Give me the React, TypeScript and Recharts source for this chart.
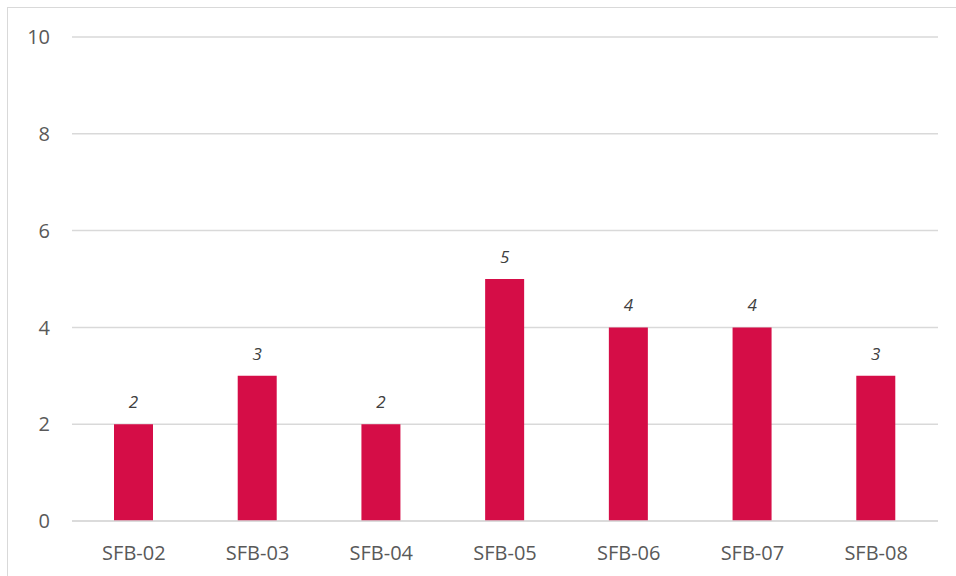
import React from 'react';
import { BarChart, Bar, XAxis, YAxis, CartesianGrid, LabelList } from 'recharts';

const categories = ['SFB-02', 'SFB-03', 'SFB-04', 'SFB-05', 'SFB-06', 'SFB-07', 'SFB-08'];
const values = [2, 3, 2, 5, 4, 4, 3];
const yTicks = [0, 2, 4, 6, 8, 10];

const data = categories.map((name, i) => ({ name, value: values[i] }));

const FONT = '"Open Sans", "Noto Sans", sans-serif';

export default function App() {
  return (
    <div style={{ position: 'absolute', left: 0, top: 0, width: 956, height: 576, overflow: 'hidden', background: '#fff' }}>
      <div style={{ position: 'absolute', left: 7, top: 7, width: 1000, height: 1000, borderLeft: '1px solid #d9d9d9', borderTop: '1px solid #d9d9d9', boxSizing: 'border-box' }} />
      <div style={{ position: 'absolute', left: 0, top: 0 }}>
        <BarChart width={956} height={576} data={data} margin={{ top: 37, right: 18, bottom: 5, left: 12 }}>
          <CartesianGrid vertical={false} stroke="#d9d9d9" strokeWidth={1.5} />
          <XAxis
            dataKey="name"
            height={50}
            axisLine={{ stroke: '#d9d9d9', strokeWidth: 1.5 }}
            tickLine={false}
            tickSize={0}
            tickMargin={25}
            tick={{ fill: '#595959', fontSize: 20, fontFamily: FONT }}
            interval={0}
          />
          <YAxis
            width={60}
            domain={[0, 10]}
            ticks={yTicks}
            axisLine={false}
            tickLine={false}
            tickSize={0}
            tickMargin={22}
            tick={{ fill: '#595959', fontSize: 20, fontFamily: FONT }}
          />
          <Bar dataKey="value" fill="#d50d47" barSize={39} isAnimationActive={false}>
            <LabelList dataKey="value" position="top" offset={16} style={{ fill: '#404040', fontSize: 17, fontStyle: 'italic', fontFamily: FONT }} />
          </Bar>
        </BarChart>
      </div>
    </div>
  );
}
